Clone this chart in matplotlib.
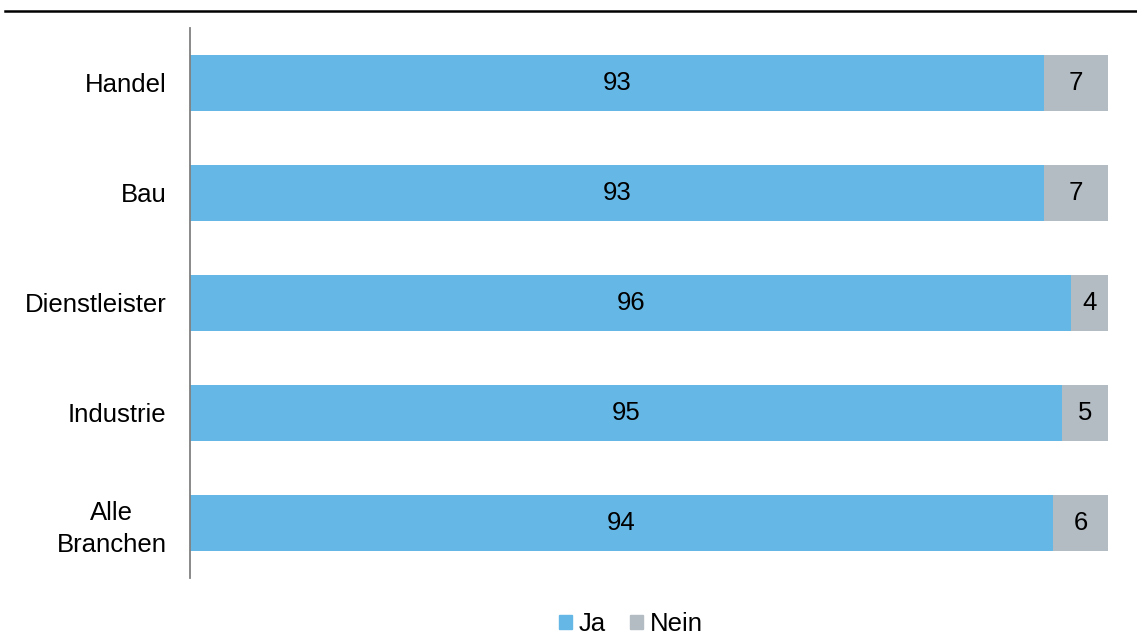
import matplotlib
matplotlib.use("Agg")
import matplotlib.pyplot as plt
from matplotlib.lines import Line2D
from matplotlib.patches import Patch

plt.rcParams['font.family'] = ['Liberation Sans', 'DejaVu Sans']

# data, top to bottom as in the chart
categories = ["Handel", "Bau", "Dienstleister", "Industrie", "Alle\nBranchen"]
ja = [93, 93, 96, 95, 94]
nein = [7, 7, 4, 5, 6]

blue = "#65b8e5"
grey = "#b4bcc3"
fs = 18.5

fig = plt.figure(figsize=(11.37, 6.37), dpi=100)
ax = fig.add_axes([190/1137, 1-578/637, (1108-190)/1137, 550/637])

ypos = list(range(len(categories)))
h = 0.51
ax.barh(ypos, ja, height=h, color=blue, edgecolor="none")
ax.barh(ypos, nein, left=ja, height=h, color=grey, edgecolor="none")

for y, a, b in zip(ypos, ja, nein):
    ax.text(a/2, y, str(a), ha="center", va="center", fontsize=fs)
    ax.text(a + b/2, y, str(b), ha="center", va="center", fontsize=fs)

ax.set_xlim(0, 100)
ax.set_ylim(len(categories)-0.5, -0.5)
ax.set_yticks(ypos)
ax.set_yticklabels(categories, fontsize=fs, multialignment="center", linespacing=1.38)
ax.tick_params(axis="y", length=0, pad=17)
ax.set_xticks([])
for s in ["top", "right", "bottom"]:
    ax.spines[s].set_visible(False)
ax.spines["left"].set_color("#808080")
ax.spines["left"].set_linewidth(1.3)

# black rule at the top
fig.add_artist(Line2D([5/1137, 1.0], [1-11/637, 1-11/637], color="black", lw=1.8))

handles = [Patch(color=blue, label="Ja"), Patch(color=grey, label="Nein")]
fig.legend(handles=handles, loc="center", bbox_to_anchor=(631/1137, 1-624/637), ncol=2,
           frameon=False, fontsize=fs, handlelength=0.5, handleheight=0.5,
           handletextpad=0.25, columnspacing=0.95)

fig.savefig("out.png", dpi=100)
